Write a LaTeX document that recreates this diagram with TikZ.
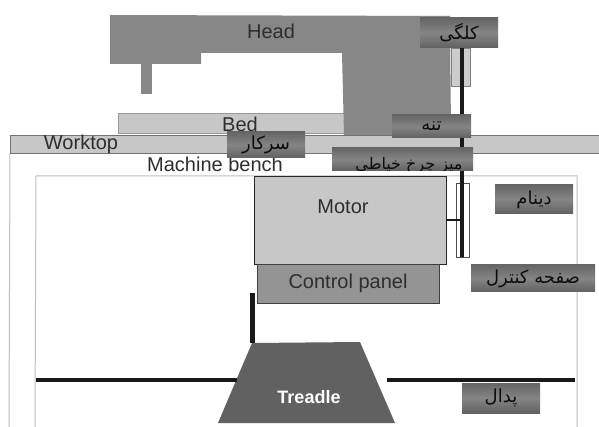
\documentclass[tikz,border=0pt]{standalone}
\usepackage{fontspec}
\setmainfont{Liberation Sans}
\newfontfamily\arabicfont[Script=Arabic]{DejaVu Sans}
\TeXXeTstate=1
\tikzset{
  part/.style={draw=black!60, line width=0.6pt},
  lbl/.style={text=black!82, font=\fontsize{20}{22}\selectfont},
  farsi/.style={top color=black!60, bottom color=black!62, middle color=black!48, inner sep=0pt, text=black!95, font=\arabicfont\fontsize{18}{20}\selectfont},
  rod/.style={draw=black!90, line width=#1},
}
\begin{document}
\begin{tikzpicture}[x=1pt, y=-1pt]
                \useasboundingbox (0,0) rectangle (599,427);
                \draw[black!25, line width=1pt] (10,153) -- (9,427);
                \draw[black!25, line width=1pt] (35,427) -- (36,176) -- (577,176) -- (577,427);
                \fill[black!22, draw=black!55, line width=0.6pt] (10,135) rectangle (599,153);
                \fill[black!22, draw=black!40, line width=0.6pt] (118,113) rectangle (345,133);
                \fill[black!47] (110,15) -- (450,16) -- (451,135) -- (344,135) -- (342,53) -- (201,53) -- (201,64) -- (110,64) -- cycle;
                \fill[black!47] (141,64) rectangle (152,94);
                \draw[black!50, fill=black!20] (451,48) rectangle (470,86);
                \node[lbl] (head) at (271,31) {Head};
                \node[lbl] (bed) at (240,124) {Bed};
                \node[lbl] (worktop) at (81,144) {Worktop};
                \node[lbl] (bench) at (215,164) {Machine bench};
                \node[part, draw=black!85, fill=black!22, minimum width=192pt, minimum height=88pt, inner sep=0pt] (motor) at (350,220) {};
                \node[lbl] at (343,207) {Motor};
                \node[part, draw=black!75, fill=black!42, minimum width=182pt, minimum height=39pt, inner sep=0pt, lbl] (panel) at (348,283.5) {Control panel};
                \draw[black!70, fill=white] (456,183) rectangle (469,257);
                \coordinate (rodtop) at (462,48);
                \coordinate (rodend) at (462,257);
                \coordinate (shaft) at (462,220);
                \draw[rod=3.5pt] (rodtop) -- (rodend);
                \draw[rod=1.6pt] (motor.east |- shaft) -- (shaft);
                \fill[black!62] (252,343) -- (360,342) -- (395,423) -- (218,423) -- cycle;
                \node[text=white, font=\bfseries\fontsize{18}{20}\selectfont] (treadle) at (309,397) {Treadle};
                \coordinate (pedalleft) at (36,380);
                \coordinate (pedaljoin) at (237,380);
                \coordinate (pedalright) at (387,380);
                \coordinate (pedalend) at (575,380);
                \coordinate (linktop) at (252,293);
                \coordinate (linkend) at (252,343);
                \draw[rod=4pt] (pedalleft) -- (pedaljoin);
                \draw[rod=4pt] (pedalright) -- (pedalend);
                \draw[rod=5pt] (linktop) -- (linkend);
                \node[farsi, minimum width=78pt, minimum height=30pt] (kalgi) at (459,33) {\beginR کلگی\endR};
                \node[farsi, minimum width=79pt, minimum height=23pt] (tane) at (431.5,126.5) {\beginR تنه\endR};
                \node[farsi, minimum width=78pt, minimum height=26pt] (sarkar) at (266,145) {\beginR سرکار\endR};
                \node[farsi, minimum width=78pt, minimum height=29pt] (dynamo) at (534,199.5) {\beginR دینام\endR};
                \node[farsi, minimum width=124pt, minimum height=27pt] (controlfa) at (533,278.5) {\beginR صفحه کنترل\endR};
                \node[farsi, minimum width=78pt, minimum height=30pt] (pedal) at (501,398) {\beginR پدال\endR};
                \begin{scope}
                \clip (332,148) rectangle (473,171);
                \node[farsi, minimum width=141pt, minimum height=23pt] (table) at (402.5,159.5) {};
                \node[text=black!95, font=\arabicfont\fontsize{16}{18}\selectfont] (tablelbl) at (409,165) {\beginR میز چرخ خیاطی\endR};
                \end{scope}
            \end{tikzpicture}
\end{document}
